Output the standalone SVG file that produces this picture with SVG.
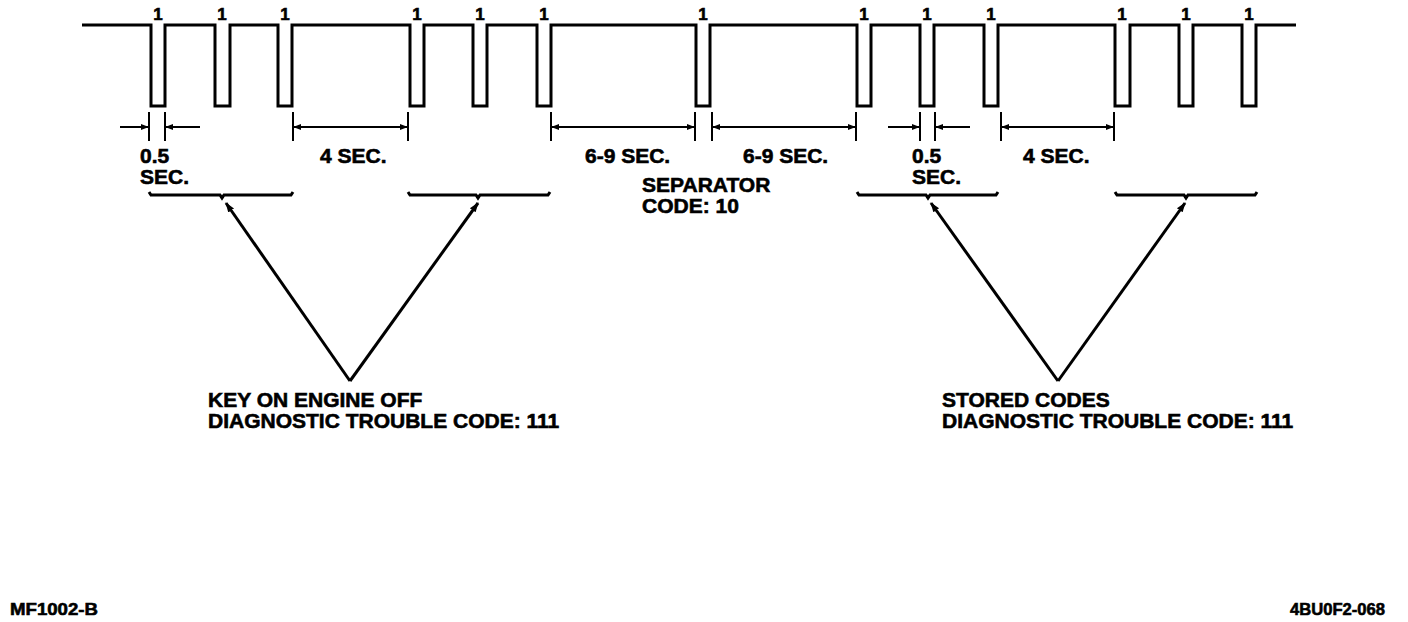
<svg xmlns="http://www.w3.org/2000/svg" width="1408" height="622" viewBox="0 0 1408 622">
<style>
.w{fill:none;stroke:#000;stroke-width:3;stroke-linejoin:miter}
.d{fill:none;stroke:#000;stroke-width:2}
.e{fill:none;stroke:#000;stroke-width:2}
.b{fill:none;stroke:#000;stroke-width:3}
.a{fill:none;stroke:#000;stroke-width:3}
text{font-family:"Liberation Sans",Arial,sans-serif;font-weight:bold;fill:#000;stroke:#000;stroke-width:0.6}
.t{font-size:21px}
.o{font-size:17px}
.s{font-size:17px}
</style>
<defs>
<marker id="ah" viewBox="0 0 10 10" refX="9" refY="5" markerWidth="8" markerHeight="8" markerUnits="userSpaceOnUse" orient="auto"><path d="M0,1 L10,5 L0,9 Z" fill="#000"/></marker>
<marker id="big" viewBox="0 0 10 10" refX="9" refY="5" markerWidth="10" markerHeight="10" markerUnits="userSpaceOnUse" orient="auto"><path d="M0,1.5 L10,5 L0,8.5 Z" fill="#000"/></marker>
</defs>
<g id="waveform">
<path class="w" d="M82,25 H151 V106 H165 V25 H215 V106 H230 V25 H278 V106 H292 V25 H410 V106 H424 V25 H473 V106 H487 V25 H537 V106 H551 V25 H696 V106 H710 V25 H857 V106 H871 V25 H920 V106 H934 V25 H984 V106 H998 V25 H1115 V106 H1130 V25 H1179 V106 H1193 V25 H1242 V106 H1256 V25 H1296"/>
<g class="o" text-anchor="middle">
<text x="158" y="20">1</text><text x="222" y="20">1</text><text x="285" y="20">1</text>
<text x="417" y="20">1</text><text x="480" y="20">1</text><text x="544" y="20">1</text>
<text x="703" y="20">1</text>
<text x="864" y="20">1</text><text x="927" y="20">1</text><text x="991" y="20">1</text>
<text x="1122" y="20">1</text><text x="1186" y="20">1</text><text x="1249" y="20">1</text>
</g>
</g>
<g id="connectors">
<path class="e" d="M149,112 V141 M165,112 V141 M293,112 V141 M408,112 V141 M551,112 V141 M695,112 V141 M712,112 V141 M856,112 V141 M920,112 V141 M935,112 V141 M1001,112 V141 M1114,112 V141"/>
<line class="d" x1="120" y1="127" x2="148" y2="127" marker-end="url(#ah)"/>
<line class="d" x1="200" y1="127" x2="166" y2="127" marker-end="url(#ah)"/>
<line class="d" x1="350" y1="127" x2="294" y2="127" marker-end="url(#ah)"/>
<line class="d" x1="350" y1="127" x2="407" y2="127" marker-end="url(#ah)"/>
<line class="d" x1="623" y1="127" x2="552" y2="127" marker-end="url(#ah)"/>
<line class="d" x1="623" y1="127" x2="694" y2="127" marker-end="url(#ah)"/>
<line class="d" x1="784" y1="127" x2="713" y2="127" marker-end="url(#ah)"/>
<line class="d" x1="784" y1="127" x2="855" y2="127" marker-end="url(#ah)"/>
<line class="d" x1="888" y1="127" x2="919" y2="127" marker-end="url(#ah)"/>
<line class="d" x1="970" y1="127" x2="936" y2="127" marker-end="url(#ah)"/>
<line class="d" x1="1057" y1="127" x2="1002" y2="127" marker-end="url(#ah)"/>
<line class="d" x1="1057" y1="127" x2="1113" y2="127" marker-end="url(#ah)"/>
<path class="b" d="M149,192 L151,195 H220 L222,198 L224,195 H291 L293,192"/>
<path class="b" d="M408,192 L410,195 H476 L478,198 L480,195 H548 L550,192"/>
<path class="b" d="M857,192 L859,195 H926 L928,198 L930,195 H996 L998,192"/>
<path class="b" d="M1115,192 L1117,195 H1184 L1186,198 L1188,195 H1255 L1257,192"/>
<line class="a" x1="350" y1="381" x2="226" y2="203" marker-end="url(#big)"/>
<line class="a" x1="350" y1="381" x2="478" y2="203" marker-end="url(#big)"/>
<line class="a" x1="1058" y1="381" x2="931" y2="203" marker-end="url(#big)"/>
<line class="a" x1="1058" y1="381" x2="1185" y2="203" marker-end="url(#big)"/>
</g>
<g id="labels" class="t">
<text x="140" y="163">0.5</text><text x="140" y="184">SEC.</text>
<text x="320" y="163">4 SEC.</text>
<text x="585" y="163">6-9 SEC.</text>
<text x="743" y="163">6-9 SEC.</text>
<text x="642" y="192">SEPARATOR</text><text x="642" y="213">CODE: 10</text>
<text x="912" y="163">0.5</text><text x="912" y="184">SEC.</text>
<text x="1023" y="163">4 SEC.</text>
</g>
<g id="koeo" class="t">
<text x="208" y="407">KEY ON ENGINE OFF</text>
<text x="208" y="428">DIAGNOSTIC TROUBLE CODE: 111</text>
</g>
<g id="stored" class="t">
<text x="942" y="407">STORED CODES</text>
<text x="942" y="428">DIAGNOSTIC TROUBLE CODE: 111</text>
</g>
<g id="refs" class="s">
<text x="10" y="615" textLength="88" lengthAdjust="spacingAndGlyphs">MF1002-B</text>
<text x="1290" y="615" textLength="95" lengthAdjust="spacingAndGlyphs">4BU0F2-068</text>
</g>
</svg>
